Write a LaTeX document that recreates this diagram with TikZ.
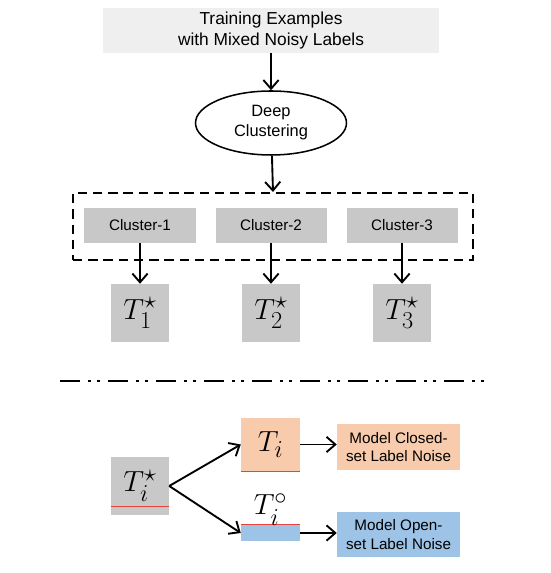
\documentclass[tikz,border=0pt]{standalone}
\usepackage{amsmath}
\usepackage{amssymb}
\usepackage{fontspec}
\setsansfont{Liberation Sans}
\usepackage{tikz}
\usetikzlibrary{shapes.geometric, arrows.meta, positioning}
\definecolor{Fig_Light}{HTML}{EFEFEF}
\definecolor{Fig_Gray}{HTML}{C8C8C8}
\definecolor{Fig_Peach}{HTML}{F8CBAD}
\definecolor{Fig_Blue}{HTML}{9DC3E6}
\definecolor{Fig_Red}{HTML}{E8433A}

\begin{document}
\begin{tikzpicture}[x=0.03cm, y=0.03cm,
    >={Straight Barb[length=7.5pt, width=13pt]},
    flow/.style={->, line width=1.6pt, black},
    txt/.style={font=\sffamily\fontsize{13}{16}\selectfont, align=center},
    graybox/.style={fill=Fig_Gray, minimum width=3.33cm, minimum height=1.05cm, inner sep=0pt},
    tbox/.style={fill=Fig_Gray, minimum size=1.74cm, inner sep=0pt, font=\Huge},
    redline/.style={Fig_Red, line width=1.2pt}]
    \useasboundingbox (0,0) rectangle (550,573);

    % ===== TOP: input and clustering =====
    \node[fill=Fig_Light, minimum width=10.1cm, minimum height=1.35cm, inner sep=0pt,
          font=\sffamily\fontsize{14.8}{18}\selectfont, align=center] (train) at (271,542.5)
          {Training Examples\\with Mixed Noisy Labels};

    \node[ellipse, draw, line width=1.3pt, minimum width=4.53cm, minimum height=1.92cm,
          inner sep=0pt, font=\sffamily\fontsize{14}{17}\selectfont, align=center] (deep) at (271,450)
          {Deep\\Clustering};

    % Dashed group of clusters
    \node[draw, dash pattern=on 8pt off 5pt, line width=1.7pt, minimum width=12cm,
          minimum height=2.01cm] (group) at (273,346.5) {};

    \draw[flow] (train) -- (deep);
    \draw[flow] (deep) -- (group.north);

    % Clusters and their transition matrices
    \foreach \i/\x in {1/140, 2/271, 3/402} {
        \node[graybox, txt] (clu\i) at (\x,347.5) {Cluster-\i};
        \node[tbox] (tstar\i) at (\x,260) {$T_{\i}^{\star}$};
        \draw[flow] (clu\i) -- (tstar\i);
    }

    % ===== Separator =====
    \coordinate (sepL) at (60,192);
    \coordinate (sepR) at (485,192);
    \draw[line width=2.4pt, dash pattern=on 17pt off 7pt on 2.5pt off 5pt on 2.5pt off 7pt] (sepL) -- (sepR);

    % ===== BOTTOM: splitting one matrix =====
    \node[tbox] (tstar) at (140,87) {$T_i^{\star}$};
    \draw[redline] ([yshift=0.27cm]tstar.south west) -- ([yshift=0.27cm]tstar.south east);

    % Closed-set part
    \node[fill=Fig_Peach, minimum width=1.77cm, minimum height=1.59cm, inner sep=0pt,
          font=\Huge] (tclose) at (270.5,128.5) {$T_i$};
    \draw[redline] (tclose.south west) -- (tclose.south east);

    % Open-set part
    \node[fill=Fig_Blue, minimum width=1.77cm, minimum height=0.48cm, inner sep=0pt] (topen) at (270.5,40) {};
    \draw[redline] (topen.north west) -- (topen.north east);
    \node[font=\Huge, anchor=base, inner sep=0pt] (topenlbl) at (270.5,58) {$T_i^{\circ}$};

    % Noise models
    \node[fill=Fig_Peach, minimum width=3.69cm, minimum height=1.38cm, txt] (mclose) at (398.5,126)
          {Model Closed-\\set Label Noise};
    \node[fill=Fig_Blue, minimum width=3.69cm, minimum height=1.35cm, txt] (mopen) at (398.5,38.5)
          {Model Open-\\set Label Noise};

    \draw[flow] (tstar.east) -- (tclose.west);
    \draw[flow] (tstar.east) -- (topen.west);
    \draw[flow] (tclose.east) -- (tclose.east -| mclose.west);
    \draw[flow] (topen.east) -- (topen.east -| mopen.west);
\end{tikzpicture}
\end{document}
